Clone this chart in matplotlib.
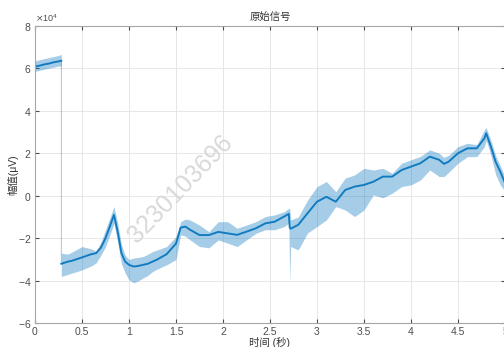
import numpy as np
import matplotlib.pyplot as plt
from matplotlib.ticker import ScalarFormatter

plt.rcParams['font.family'] = ['Liberation Sans', 'Noto Sans CJK SC', 'DejaVu Sans']
plt.rcParams['axes.unicode_minus'] = False

# time (s) and signal envelope, in units of 1e4 uV
t = [0, 0.05, 0.1, 0.15, 0.2, 0.25, 0.28,
     0.28, 0.35, 0.4, 0.5, 0.6, 0.65, 0.7, 0.75, 0.8, 0.84, 0.88, 0.92, 0.96,
     1.0, 1.05, 1.1, 1.15, 1.2, 1.25, 1.3, 1.4, 1.5, 1.55, 1.6, 1.65, 1.75,
     1.85, 1.95, 2.05, 2.15, 2.25, 2.35, 2.45, 2.55, 2.65, 2.7, 2.71, 2.72,
     2.8, 2.9, 3.0, 3.1, 3.2, 3.3, 3.4, 3.5, 3.6, 3.7, 3.8, 3.9, 4.0, 4.1,
     4.2, 4.3, 4.35, 4.4, 4.5, 4.6, 4.7, 4.78, 4.8, 4.85, 4.9, 4.95, 5.0]
center = [6.08, 6.12, 6.18, 6.22, 6.28, 6.32, 6.35,
          -3.2, -3.1, -3.05, -2.9, -2.75, -2.7, -2.45, -2.0, -1.4, -0.9, -1.7, -2.7, -3.1,
          -3.25, -3.33, -3.3, -3.25, -3.2, -3.1, -3.0, -2.75, -2.25, -1.5, -1.45, -1.6, -1.85,
          -1.85, -1.7, -1.77, -1.84, -1.69, -1.53, -1.3, -1.22, -0.98, -0.85, -1.5, -1.55,
          -1.37, -0.82, -0.28, -0.05, -0.28, 0.27, 0.43, 0.51, 0.66, 0.9, 0.9, 1.21, 1.37, 1.53,
          1.84, 1.69, 1.5, 1.6, 2.0, 2.23, 2.23, 2.7, 2.94, 2.31, 1.6, 1.13, 0.6]
upper = [6.35, 6.4, 6.45, 6.5, 6.55, 6.6, 6.65,
         -2.7, -2.75, -2.63, -2.39, -2.5, -2.6, -2.2, -1.6, -1.0, -0.5, -1.3, -2.3, -2.8,
         -3.0, -2.93, -2.9, -2.86, -2.75, -2.63, -2.55, -2.39, -1.92, -1.22, -1.1, -1.14, -1.38,
         -1.69, -1.22, -1.22, -1.53, -1.38, -1.22, -0.98, -0.9, -0.75, -0.6, -0.6, -1.14,
         -1.0, -0.2, 0.43, 0.67, 0.19, 0.83, 0.98, 1.29, 1.21, 1.29, 1.06, 1.53, 1.69, 1.85,
         2.16, 2.0, 1.8, 1.9, 2.31, 2.47, 2.4, 3.1, 3.2, 2.6, 1.9, 1.4, 0.9]
lower = [5.85, 5.9, 5.95, 6.0, 6.05, 6.1, 6.1,
         -3.8, -3.7, -3.63, -3.49, -3.3, -3.16, -2.8, -2.4, -1.8, -1.3, -2.2, -3.2, -3.64,
         -3.96, -4.1, -4.0, -3.87, -3.75, -3.57, -3.45, -3.25, -3.0, -1.84, -1.9, -2.08, -2.39,
         -2.45, -2.08, -2.23, -2.39, -2.08, -1.77, -1.6, -1.6, -1.45, -1.3, -4.1, -2.39,
         -2.55, -1.75, -1.45, -1.14, -0.51, -0.67, -0.98, -0.67, 0.04, -0.1, 0.12, 0.43, 0.51, 0.74,
         1.21, 0.9, 0.9, 1.1, 1.53, 1.84, 1.84, 2.3, 2.6, 1.9, 1.0, 0.51, 0.2]

scale = 1e4
t = np.array(t)
center = np.array(center) * scale
upper = np.array(upper) * scale
lower = np.array(lower) * scale

blue = '#0072BD'

fig = plt.figure(figsize=(5.04, 3.47), dpi=100)
ax = fig.add_axes([0.0694, 0.0683, 0.9326, 0.8577])

# split where the signal jumps (repeated time value)
breaks = list(np.where(np.diff(t) == 0)[0] + 1)
starts = [0] + breaks
ends = breaks + [len(t)]

# thin trace of the whole record including the jump
ax.plot(t, center, color=blue, lw=0.6, alpha=0.45)
for s, e in zip(starts, ends):
    ax.fill_between(t[s:e], lower[s:e], upper[s:e], color=blue, alpha=0.35, lw=0)
    ax.plot(t[s:e], center[s:e], color=blue, lw=1.4, alpha=0.85)

ax.set_xlim(0, 5)
ax.set_ylim(-6e4, 8e4)
ax.set_xticks(np.arange(0, 5.01, 0.5))
ax.set_xticklabels(['0', '0.5', '1', '1.5', '2', '2.5', '3', '3.5', '4', '4.5', '5'])
ax.set_yticks(np.arange(-6e4, 8.01e4, 2e4))
fmt = ScalarFormatter(useMathText=True)
fmt.set_powerlimits((0, 0))
ax.yaxis.set_major_formatter(fmt)
ax.yaxis.get_offset_text().set_fontsize(6.5)
ax.yaxis.get_offset_text().set_color('#4d4d4d')

ax.grid(True, color='#e3e3e3', lw=0.6)
ax.set_axisbelow(True)
for sp in ax.spines.values():
    sp.set_color('#a6a6a6')
    sp.set_linewidth(0.8)
ax.tick_params(direction='in', length=3, colors='#4d4d4d', labelsize=7.5,
               top=True, right=True, pad=2.5)

ax.set_title('原始信号', fontsize=7.5, color='#333333', pad=4)
ax.set_xlabel('时间 (秒)', fontsize=7.5, color='#333333')
ax.set_ylabel('幅值(μV)', fontsize=7.5, color='#333333')
ax.xaxis.set_label_coords(0.5, -0.046)
ax.yaxis.set_label_coords(-0.036, 0.5)

ax.text(0.31, 0.45, '3230103696', transform=ax.transAxes, rotation=46,
        fontsize=18, color='#d9d9d9', ha='center', va='center',
        family=['Liberation Sans'], zorder=5)

fig.savefig('out.png', dpi=100)
